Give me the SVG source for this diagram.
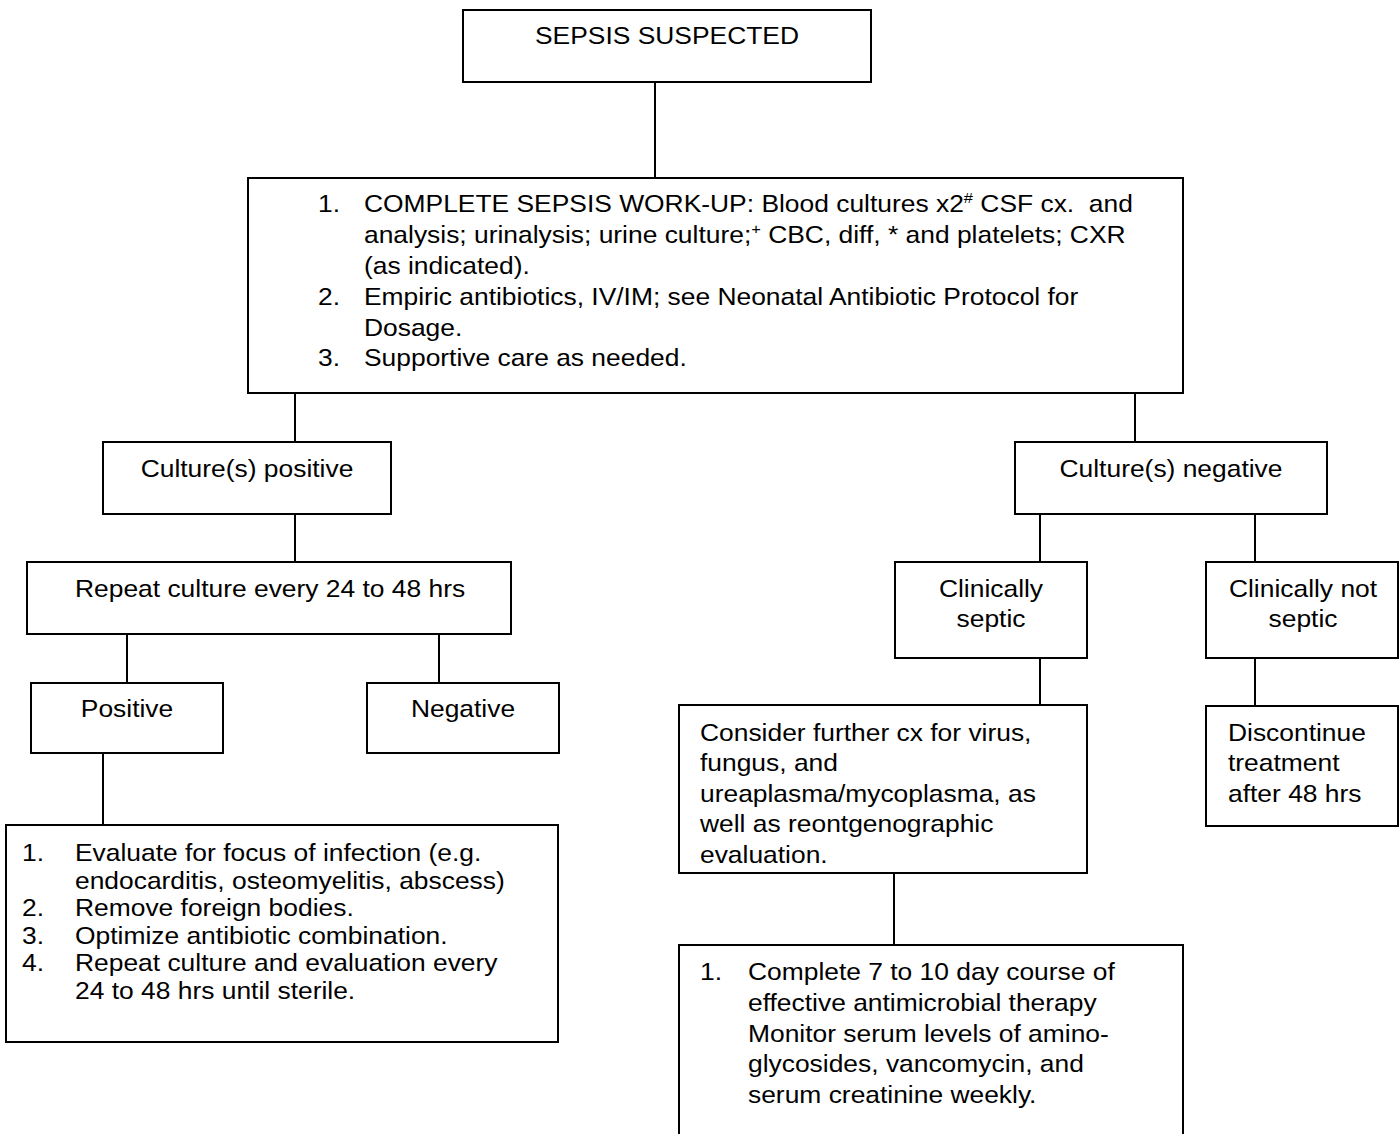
<svg xmlns="http://www.w3.org/2000/svg" width="1400" height="1134" viewBox="0 0 1400 1134">
<style>
.box{fill:#fff;stroke:#000;stroke-width:2}
.ln{stroke:#000;stroke-width:2;fill:none}
.t{font-family:"Liberation Sans",Arial,sans-serif;font-size:24px;fill:#000}
.c{text-anchor:middle}
.sup{font-size:15px}
</style>
<rect width="1400" height="1134" fill="#fff"/>
<g id="connectors">
<line class="ln" x1="655" y1="82" x2="655" y2="178"/>
<line class="ln" x1="295" y1="393" x2="295" y2="442"/>
<line class="ln" x1="1135" y1="393" x2="1135" y2="442"/>
<line class="ln" x1="295" y1="514" x2="295" y2="562"/>
<line class="ln" x1="127" y1="634" x2="127" y2="683"/>
<line class="ln" x1="439" y1="634" x2="439" y2="683"/>
<line class="ln" x1="103" y1="753" x2="103" y2="825"/>
<line class="ln" x1="1040" y1="514" x2="1040" y2="562"/>
<line class="ln" x1="1255" y1="514" x2="1255" y2="562"/>
<line class="ln" x1="1040" y1="658" x2="1040" y2="705"/>
<line class="ln" x1="1255" y1="658" x2="1255" y2="706"/>
<line class="ln" x1="894" y1="873" x2="894" y2="945"/>
</g>
<g id="sepsis-suspected">
<rect class="box" x="463" y="10" width="408" height="72"/>
<text class="t c" transform="translate(667,44) scale(1.1,1)">SEPSIS SUSPECTED</text>
</g>
<g id="workup">
<rect class="box" x="248" y="178" width="935" height="215"/>
<g transform="translate(318,0)">
<text class="t" transform="translate(0,212) scale(1.1,1)">1.</text>
<text class="t" transform="translate(0,305) scale(1.1,1)">2.</text>
<text class="t" transform="translate(0,366) scale(1.1,1)">3.</text>
</g>
<text class="t" transform="translate(364,212) scale(1.1,1)">COMPLETE SEPSIS WORK-UP: Blood cultures x2<tspan class="sup" dy="-9">#</tspan><tspan dy="9"> CSF cx.&#160; and</tspan></text>
<text class="t" transform="translate(364,243) scale(1.1,1)">analysis; urinalysis; urine culture;<tspan class="sup" dy="-9">+</tspan><tspan dy="9"> CBC, diff, * and platelets; CXR</tspan></text>
<text class="t" transform="translate(364,274) scale(1.1,1)">(as indicated).</text>
<text class="t" transform="translate(364,305) scale(1.1,1)">Empiric antibiotics, IV/IM; see Neonatal Antibiotic Protocol for</text>
<text class="t" transform="translate(364,336) scale(1.1,1)">Dosage.</text>
<text class="t" transform="translate(364,366) scale(1.1,1)">Supportive care as needed.</text>
</g>
<g id="culture-positive">
<rect class="box" x="103" y="442" width="288" height="72"/>
<text class="t c" transform="translate(247,477) scale(1.1,1)">Culture(s) positive</text>
</g>
<g id="repeat-culture">
<rect class="box" x="27" y="562" width="484" height="72"/>
<text class="t" transform="translate(75,597) scale(1.1,1)">Repeat culture every 24 to 48 hrs</text>
</g>
<g id="positive">
<rect class="box" x="31" y="683" width="192" height="70"/>
<text class="t c" transform="translate(127,717) scale(1.1,1)">Positive</text>
</g>
<g id="negative">
<rect class="box" x="367" y="683" width="192" height="70"/>
<text class="t c" transform="translate(463,717) scale(1.1,1)">Negative</text>
</g>
<g id="positive-actions">
<rect class="box" x="6" y="825" width="552" height="217"/>
<text class="t" transform="translate(22,861) scale(1.1,1)">1.</text>
<text class="t" transform="translate(75,861) scale(1.1,1)">Evaluate for focus of infection (e.g.</text>
<text class="t" transform="translate(75,888.5) scale(1.1,1)">endocarditis, osteomyelitis, abscess)</text>
<text class="t" transform="translate(22,916) scale(1.1,1)">2.</text>
<text class="t" transform="translate(75,916) scale(1.1,1)">Remove foreign bodies.</text>
<text class="t" transform="translate(22,943.5) scale(1.1,1)">3.</text>
<text class="t" transform="translate(75,943.5) scale(1.1,1)">Optimize antibiotic combination.</text>
<text class="t" transform="translate(22,971) scale(1.1,1)">4.</text>
<text class="t" transform="translate(75,971) scale(1.1,1)">Repeat culture and evaluation every</text>
<text class="t" transform="translate(75,998.5) scale(1.1,1)">24 to 48 hrs until sterile.</text>
</g>
<g id="culture-negative">
<rect class="box" x="1015" y="442" width="312" height="72"/>
<text class="t c" transform="translate(1171,477) scale(1.1,1)">Culture(s) negative</text>
</g>
<g id="clinically-septic">
<rect class="box" x="895" y="562" width="192" height="96"/>
<text class="t c" transform="translate(991,597) scale(1.1,1)">Clinically</text>
<text class="t c" transform="translate(991,627) scale(1.1,1)">septic</text>
</g>
<g id="clinically-not-septic">
<rect class="box" x="1206" y="562" width="192" height="96"/>
<text class="t c" transform="translate(1303,597) scale(1.1,1)">Clinically not</text>
<text class="t c" transform="translate(1303,627) scale(1.1,1)">septic</text>
</g>
<g id="consider-further">
<rect class="box" x="679" y="705" width="408" height="168"/>
<text class="t" transform="translate(700,741) scale(1.1,1)">Consider further cx for virus,</text>
<text class="t" transform="translate(700,771.4) scale(1.1,1)">fungus, and</text>
<text class="t" transform="translate(700,801.8) scale(1.1,1)">ureaplasma/mycoplasma, as</text>
<text class="t" transform="translate(700,832.2) scale(1.1,1)">well as reontgenographic</text>
<text class="t" transform="translate(700,862.6) scale(1.1,1)">evaluation.</text>
</g>
<g id="discontinue">
<rect class="box" x="1206" y="706" width="192" height="120"/>
<text class="t" transform="translate(1228,741) scale(1.1,1)">Discontinue</text>
<text class="t" transform="translate(1228,771.4) scale(1.1,1)">treatment</text>
<text class="t" transform="translate(1228,801.8) scale(1.1,1)">after 48 hrs</text>
</g>
<g id="complete-course">
<rect class="box" x="679" y="945" width="504" height="210"/>
<text class="t" transform="translate(700,980) scale(1.1,1)">1.</text>
<text class="t" transform="translate(748,980) scale(1.1,1)">Complete 7 to 10 day course of</text>
<text class="t" transform="translate(748,1011) scale(1.1,1)">effective antimicrobial therapy</text>
<text class="t" transform="translate(748,1042) scale(1.1,1)">Monitor serum levels of amino-</text>
<text class="t" transform="translate(748,1072) scale(1.1,1)">glycosides, vancomycin, and</text>
<text class="t" transform="translate(748,1103) scale(1.1,1)">serum creatinine weekly.</text>
</g>
</svg>
